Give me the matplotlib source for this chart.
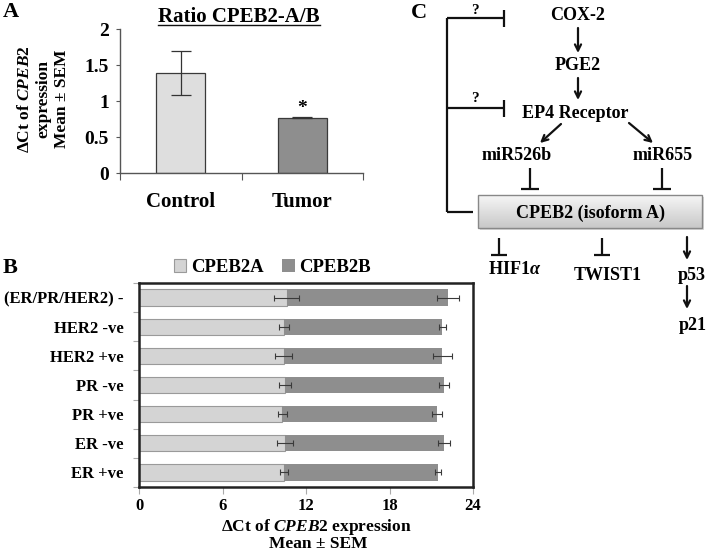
import matplotlib
matplotlib.use('Agg')
import matplotlib.pyplot as plt
import numpy as np
from matplotlib.lines import Line2D
from matplotlib.patches import Rectangle
from matplotlib.colors import LinearSegmentedColormap

plt.rcParams['font.family'] = ['Liberation Serif', 'DejaVu Serif']
plt.rcParams['font.weight'] = 'bold'
plt.rcParams['mathtext.fontset'] = 'custom'
plt.rcParams['mathtext.rm'] = 'Liberation Serif:bold'
plt.rcParams['mathtext.it'] = 'Liberation Serif:italic:bold'
plt.rcParams['mathtext.bf'] = 'Liberation Serif:bold'

# ---------------- data ----------------
# Panel A
ratio_groups = ['Control', 'Tumor']
ratio_means = [1.39, 0.77]
ratio_sem = [0.31, 0.01]
ratio_yticks = [0, 0.5, 1, 1.5, 2]
ratio_yticklabels = ['0', '0.5', '1', '1.5', '2']

# Panel B
subtypes = ['(ER/PR/HER2) -', 'HER2 -ve', 'HER2 +ve', 'PR -ve', 'PR +ve', 'ER -ve', 'ER +ve']
cpeb2a = [10.6, 10.4, 10.4, 10.5, 10.3, 10.5, 10.4]
cpeb2a_sem = [0.9, 0.35, 0.6, 0.45, 0.33, 0.57, 0.3]
cpeb2b = [11.6, 11.4, 11.4, 11.4, 11.1, 11.4, 11.1]
cpeb2b_sem = [0.8, 0.25, 0.7, 0.35, 0.37, 0.45, 0.2]
b_xticks = [0, 6, 12, 18, 24]
b_series = ['CPEB2A', 'CPEB2B']

W, H = 709, 553
fig = plt.figure(figsize=(W / 100, H / 100), dpi=100)


def rect(l, t, r, b):
    return [l / W, 1 - b / H, (r - l) / W, (b - t) / H]


def ftext(x, y, s, **kw):
    return fig.text(x / W, 1 - y / H, s, **kw)


# ---------------- Panel A ----------------
axA = fig.add_axes(rect(120, 29, 363, 173))
xa = np.arange(len(ratio_groups))
axA.bar(xa, ratio_means, width=0.4, color=['#dedede', '#8e8e8e'], edgecolor='#3a3a3a', linewidth=0.9,
        yerr=ratio_sem, capsize=7, error_kw=dict(ecolor='#333333', elinewidth=0.9, capthick=0.9), zorder=2)
axA.set_xlim(-0.5, 1.5)
axA.set_ylim(0, 2)
for s in ['top', 'right']:
    axA.spines[s].set_visible(False)
for s in ['left', 'bottom']:
    axA.spines[s].set_color('#555555')
    axA.spines[s].set_linewidth(1.0)
axA.set_yticks(ratio_yticks)
axA.set_yticklabels(ratio_yticklabels, fontsize=14)
axA.tick_params(axis='y', direction='out', length=3, pad=5, color='#555555')
axA.set_xticks([-0.5, 0.5, 1.5])
axA.set_xticklabels([])
axA.tick_params(axis='x', which='major', direction='out', length=5, color='#555555')
axA.set_xticks(xa, minor=True)
axA.set_xticklabels(ratio_groups, minor=True, fontsize=15)
axA.tick_params(axis='x', which='minor', length=0, pad=14)
axA.text(1, 0.84, '*', ha='center', va='baseline', fontsize=14)

title = ftext(239, 17, 'Ratio CPEB2-A/B', ha='center', va='center', fontsize=15)
# y-label (three rotated lines)
ftext(25, 99, r'ΔCt of $\mathit{CPEB2}$', rotation=90, ha='center', va='center', fontsize=12.5)
ftext(43, 99, 'expression', rotation=90, ha='center', va='center', fontsize=12.5)
ftext(62, 99, 'Mean ± SEM', rotation=90, ha='center', va='center', fontsize=12.5)

# ---------------- Panel B ----------------
axB = fig.add_axes(rect(139, 283, 473, 487))
yb = np.arange(len(subtypes))
totals = np.add(cpeb2a, cpeb2b)
axB.barh(yb, cpeb2a, height=0.56, color='#d4d4d4', edgecolor='#9a9a9a', linewidth=0.8,
         label=b_series[0], zorder=2)
axB.barh(yb, cpeb2b, left=cpeb2a, height=0.56, color='#8e8e8e', linewidth=0,
         label=b_series[1], zorder=2)
axB.errorbar(cpeb2a, yb, xerr=cpeb2a_sem, fmt='none', ecolor='#3a3a3a', elinewidth=0.8,
             capsize=2.5, capthick=0.8, zorder=3)
axB.errorbar(totals, yb, xerr=cpeb2b_sem, fmt='none', ecolor='#3a3a3a', elinewidth=0.8,
             capsize=2.5, capthick=0.8, zorder=3)
axB.set_xlim(0, 24)
axB.set_ylim(len(subtypes) - 0.5, -0.5)
for s in axB.spines.values():
    s.set_color('#222222')
    s.set_linewidth(1.8)
axB.set_xticks(b_xticks)
axB.set_xticklabels([str(v) for v in b_xticks], fontsize=12)
axB.tick_params(axis='x', direction='out', length=5, color='#aaaaaa', pad=3)
axB.set_yticks(np.arange(-0.5, len(subtypes), 1))
axB.set_yticklabels([])
axB.tick_params(axis='y', which='major', direction='out', length=4, color='#aaaaaa')
axB.set_yticks(yb, minor=True)
axB.set_yticklabels(subtypes, minor=True, fontsize=12)
axB.tick_params(axis='y', which='minor', length=0, pad=11)
axB.legend(loc='center', bbox_to_anchor=(0.40, 1.075), ncol=2, frameon=False, fontsize=13.5,
           handlelength=0.65, handleheight=0.65, handletextpad=0.25, columnspacing=1.0,
           borderaxespad=0, borderpad=0)

ftext(316, 531, r'ΔCt of $\mathit{CPEB2}$ expression', ha='center', va='baseline', fontsize=12.5)
ftext(318, 548, 'Mean ± SEM', ha='center', va='baseline', fontsize=12.5)

# panel letters
ftext(3, 12, 'A', ha='left', va='center', fontsize=16)
ftext(3, 268, 'B', ha='left', va='center', fontsize=16)
ftext(411, 13, 'C', ha='left', va='center', fontsize=16)

# ---------------- Panel C (diagram) ----------------
axC = fig.add_axes([0, 0, 1, 1])
axC.patch.set_visible(False)
axC.axis('off')
LC = '#111111'
LW = 1.6


def line(x0, y0, x1, y1, lw=LW):
    axC.add_line(Line2D([x0, x1], [y0, y1], color=LC, lw=lw, solid_capstyle='butt'))


def arrow(x0, y0, x1, y1):
    axC.annotate('', xy=(x1, y1), xytext=(x0, y0),
                 arrowprops=dict(arrowstyle='->', lw=LW, color=LC, shrinkA=0, shrinkB=0,
                                 mutation_scale=11))


def tbar_v(x, y0, y1, half=9):
    line(x, y0, x, y1)
    line(x - half, y1, x + half, y1)


def label(x, y, s, fs=13):
    axC.text(x, y, s, ha='center', va='center', fontsize=fs)


# bracket with inhibitions
line(447, 18, 447, 212)
line(447, 18, 504, 18)
line(504, 10, 504, 27)
line(447, 108, 504, 108)
line(504, 100, 504, 117)
line(447, 212, 473, 212)
label(475, 10, '?', fs=11)
label(475, 98, '?', fs=11)

label(578, 16, 'COX-2')
arrow(578, 28, 578, 53)
label(578, 66, 'PGE2')
arrow(578, 78, 578, 100)
label(575, 113, 'EP4 Receptor')
arrow(561, 124, 540, 143)
arrow(629, 123, 653, 143)
label(517, 156, 'miR526b')
label(663, 156, 'miR655')
tbar_v(530, 168, 189)
tbar_v(662, 168, 189)

# gradient box
cmap = LinearSegmentedColormap.from_list('g', ['#f6f6f6', '#c8c8c8'])
axC.add_patch(Rectangle((480, 197), 224, 33, facecolor='#b0b0b0', edgecolor='none', alpha=0.5))
grad = np.linspace(0, 1, 64).reshape(-1, 1)
axC.imshow(grad, extent=(478, 702, 228, 195), cmap=cmap, aspect='auto', zorder=2)
axC.add_patch(Rectangle((478, 195), 224, 33, facecolor='none', edgecolor='#888888', lw=1.0, zorder=3))
axC.text(590, 213, 'CPEB2 (isoform A)', ha='center', va='center', fontsize=13, zorder=4)

tbar_v(499, 238, 255, half=8)
label(515, 269, r'HIF1$\alpha$')
tbar_v(602, 238, 255, half=8)
label(608, 275, 'TWIST1')
arrow(687, 237, 687, 260)
label(692, 276, 'p53')
arrow(687, 286, 687, 309)
label(693, 326, 'p21')

axC.set_xlim(0, W)
axC.set_ylim(H, 0)

# underline title
fig.canvas.draw()
bb = title.get_window_extent()
fig.add_artist(Line2D([bb.x0 / W, bb.x1 / W], [1 - 24.5 / H, 1 - 24.5 / H], color='#111111', lw=1.0,
                      transform=fig.transFigure))

fig.savefig('out.png', dpi=100)
